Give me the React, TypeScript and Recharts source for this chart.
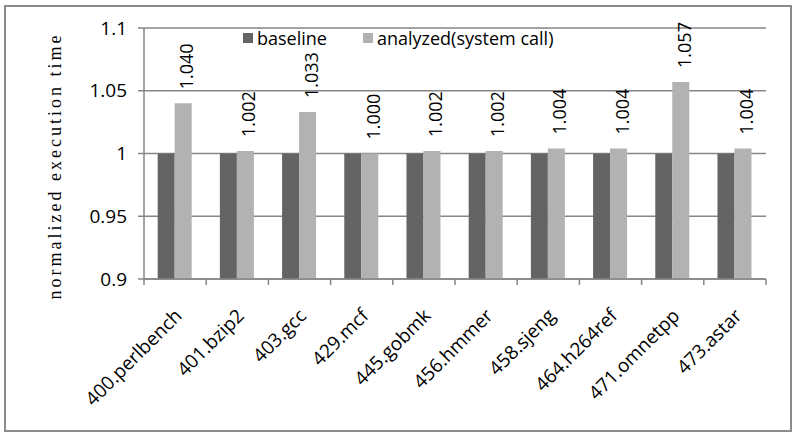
import React from 'react';
import { BarChart, Bar, XAxis, YAxis, CartesianGrid, LabelList } from 'recharts';

const benchmarks = [
    '400.perlbench', '401.bzip2', '403.gcc', '429.mcf', '445.gobmk',
    '456.hmmer', '458.sjeng', '464.h264ref', '471.omnetpp', '473.astar',
];
const baseline = [1, 1, 1, 1, 1, 1, 1, 1, 1, 1];
const analyzed = [1.040, 1.002, 1.033, 1.000, 1.002, 1.002, 1.004, 1.004, 1.057, 1.004];
const yTicks = [0.9, 0.95, 1, 1.05, 1.1];

const W = 793;
const H = 434;
const PLOT_LEFT = 144;
const PLOT_RIGHT = 766;
const PLOT_TOP = 28;
const PLOT_BOTTOM = 279;
const X_AXIS_H = 120;

const SANS = '"Open Sans", "Lato", sans-serif';
const GRID = '#868686';
const DARK = '#646464';
const LIGHT = '#b2b2b2';

const band = (PLOT_RIGHT - PLOT_LEFT) / benchmarks.length;

const data = benchmarks.map((name, i) => ({
    name,
    baseline: baseline[i],
    analyzed: analyzed[i],
}));

// excel-style: ticks sit between categories, labels slanted 45deg
function XTick(props: any) {
    const { x, payload, index } = props;
    const y0 = PLOT_BOTTOM;
    const ax = x + 8;
    const ay = y0 + 38;
    return (
        <g>
            <line x1={x - band / 2} y1={y0} x2={x - band / 2} y2={y0 + 6} stroke={GRID} strokeWidth={1.5} />
            {index === benchmarks.length - 1 && (
                <line x1={x + band / 2} y1={y0} x2={x + band / 2} y2={y0 + 6} stroke={GRID} strokeWidth={1.5} />
            )}
            <text
                x={ax}
                y={ay}
                textAnchor="end"
                transform={`rotate(-45, ${ax}, ${ay})`}
                fontFamily={SANS}
                fontSize={19}
                fill="#000"
            >
                {payload.value}
            </text>
        </g>
    );
}

function ValueLabel(props: any) {
    const { x, y, width, value } = props;
    const lx = x + width / 2 + 10;
    const ly = y - 14;
    return (
        <text
            x={lx}
            y={ly}
            transform={`rotate(-90, ${lx}, ${ly})`}
            textAnchor="start"
            fontFamily={SANS}
            fontSize={18}
            fill="#000"
        >
            {Number(value).toFixed(3)}
        </text>
    );
}

function LegendBox() {
    const items = [
        { label: 'baseline', color: DARK },
        { label: 'analyzed(system call)', color: LIGHT },
    ];
    return (
        <div
            style={{
                position: 'absolute', left: 243, top: 25, display: 'flex', alignItems: 'center',
                fontFamily: SANS, fontSize: 18, color: '#000', lineHeight: '26px',
            }}
        >
            {items.map((it, i) => (
                <div key={it.label} style={{ display: 'flex', alignItems: 'center', marginRight: i === 0 ? 36 : 0 }}>
                    <span style={{ width: 10, height: 10, background: it.color, display: 'inline-block', marginRight: 4 }} />
                    <span>{it.label}</span>
                </div>
            ))}
        </div>
    );
}

export default function App() {
    return (
        <div style={{ position: 'absolute', left: 0, top: 0, width: W, height: H, background: '#fff' }}>
            <div
                style={{
                    position: 'absolute', left: 4, top: 5, width: 784, height: 423,
                    border: '2px solid #8c8c8c', boxSizing: 'content-box',
                }}
            />
            <div
                style={{
                    position: 'absolute', left: 55, top: 166,
                    transform: 'translate(-50%, -50%) rotate(-90deg)',
                    fontFamily: '"Liberation Serif", "DejaVu Serif", serif',
                    fontSize: 18, letterSpacing: 3, whiteSpace: 'nowrap', color: '#000',
                }}
            >
                normalized execution time
            </div>
            <BarChart
                width={W}
                height={H}
                data={data}
                margin={{ top: PLOT_TOP, right: W - PLOT_RIGHT, left: 0, bottom: H - PLOT_BOTTOM - X_AXIS_H }}
                barCategoryGap="22%"
                barGap={0}
                style={{ position: 'absolute', left: 0, top: 0 }}
            >
                <CartesianGrid vertical={false} stroke={GRID} strokeWidth={1.5} />
                <XAxis
                    dataKey="name"
                    height={X_AXIS_H}
                    interval={0}
                    tickLine={false}
                    axisLine={{ stroke: GRID, strokeWidth: 1.5 }}
                    tick={<XTick />}
                />
                <YAxis
                    width={PLOT_LEFT}
                    domain={[0.9, 1.1]}
                    ticks={yTicks}
                    interval={0}
                    tickSize={6}
                    tickLine={{ stroke: GRID, strokeWidth: 1.5 }}
                    axisLine={{ stroke: GRID, strokeWidth: 1.5 }}
                    tickMargin={11}
                    tick={{ fontFamily: SANS, fontSize: 19, fill: '#000' }}
                />
                <Bar dataKey="baseline" name="baseline" fill={DARK} isAnimationActive={false} />
                <Bar dataKey="analyzed" name="analyzed(system call)" fill={LIGHT} isAnimationActive={false}>
                    <LabelList dataKey="analyzed" content={<ValueLabel />} />
                </Bar>
            </BarChart>
            <LegendBox />
        </div>
    );
}
